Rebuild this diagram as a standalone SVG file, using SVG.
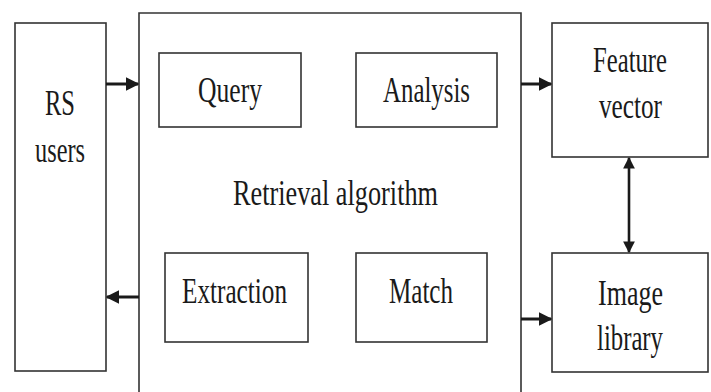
<svg xmlns="http://www.w3.org/2000/svg" width="711" height="392" viewBox="0 0 711 392">
  <style>
    .box { fill: #ffffff; stroke: #333333; stroke-width: 1.6; }
    .lbl { font-family: "Liberation Serif", "DejaVu Serif", serif; font-size: 36px; fill: #1a1a1a; }
    .wire { stroke: #1a1a1a; stroke-width: 3; fill: none; }
  </style>
  <defs>
    <marker id="head" viewBox="0 0 10 10" refX="9" refY="5" markerWidth="4.5" markerHeight="4.5" orient="auto-start-reverse" markerUnits="strokeWidth">
      <path d="M0,0 L10,5 L0,10 z" fill="#1a1a1a"/>
    </marker>
  </defs>
  <rect width="711" height="392" fill="#ffffff"/>

  <g id="rs-users">
    <rect class="box" x="15" y="23" width="91" height="348"/>
    <text class="lbl" x="45" y="115" textLength="30" lengthAdjust="spacingAndGlyphs">RS</text>
    <text class="lbl" x="35" y="162" textLength="50" lengthAdjust="spacingAndGlyphs">users</text>
  </g>

  <g id="retrieval-algorithm">
    <path class="box" d="M139,400 L139,13 L521,13 L521,400"/>
    <text class="lbl" x="233" y="205" textLength="205" lengthAdjust="spacingAndGlyphs">Retrieval algorithm</text>
  </g>

  <g id="query">
    <rect class="box" x="159" y="53" width="142" height="74"/>
    <text class="lbl" x="198" y="102" textLength="64" lengthAdjust="spacingAndGlyphs">Query</text>
  </g>

  <g id="analysis">
    <rect class="box" x="356" y="53" width="141" height="74"/>
    <text class="lbl" x="383" y="102" textLength="87" lengthAdjust="spacingAndGlyphs">Analysis</text>
  </g>

  <g id="extraction">
    <rect class="box" x="165" y="253" width="143" height="89"/>
    <text class="lbl" x="182" y="303" textLength="105" lengthAdjust="spacingAndGlyphs">Extraction</text>
  </g>

  <g id="match">
    <rect class="box" x="356" y="253" width="131" height="89"/>
    <text class="lbl" x="389" y="303" textLength="64" lengthAdjust="spacingAndGlyphs">Match</text>
  </g>

  <g id="feature-vector">
    <rect class="box" x="552" y="23" width="156" height="134"/>
    <text class="lbl" x="593" y="72" textLength="74" lengthAdjust="spacingAndGlyphs">Feature</text>
    <text class="lbl" x="599" y="118" textLength="63" lengthAdjust="spacingAndGlyphs">vector</text>
  </g>

  <g id="image-library">
    <rect class="box" x="552" y="253" width="156" height="119"/>
    <text class="lbl" x="598" y="305" textLength="65" lengthAdjust="spacingAndGlyphs">Image</text>
    <text class="lbl" x="597" y="350" textLength="66" lengthAdjust="spacingAndGlyphs">library</text>
  </g>

  <g id="connectors">
    <line class="wire" x1="106" y1="84" x2="138" y2="84" marker-end="url(#head)"/>
    <line class="wire" x1="139" y1="297" x2="107" y2="297" marker-end="url(#head)"/>
    <line class="wire" x1="521" y1="84" x2="551" y2="84" marker-end="url(#head)"/>
    <line class="wire" x1="521" y1="319" x2="551" y2="319" marker-end="url(#head)"/>
    <line class="wire" x1="629" y1="158" x2="629" y2="252" marker-start="url(#head)" marker-end="url(#head)" style="stroke-width:2.6"/>
  </g>
</svg>
